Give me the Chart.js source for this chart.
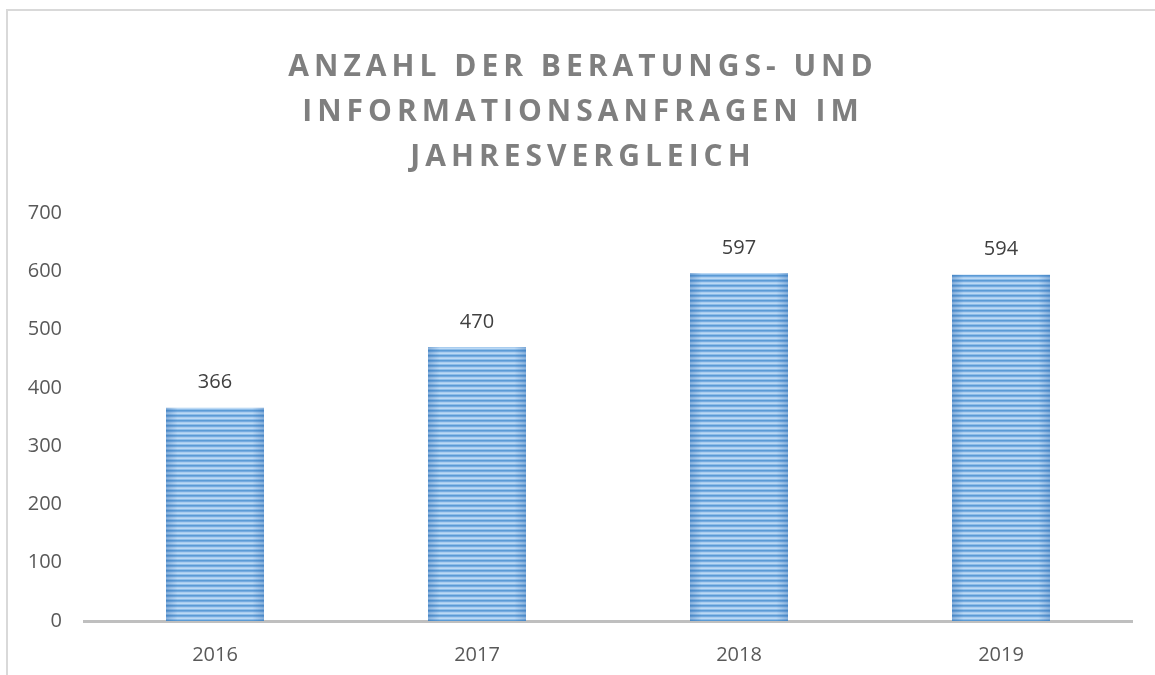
<!DOCTYPE html>
<html><head><meta charset="utf-8">
<script src="https://cdn.jsdelivr.net/npm/chart.js@4.4.1/dist/chart.umd.min.js"></script>
<style>
html,body{margin:0;padding:0;background:#fff;overflow:hidden;width:1155px;height:675px;}
#wrap{position:absolute;left:0;top:0;width:1155px;height:675px;}
#frame{position:absolute;left:6px;top:9px;width:1300px;height:800px;border:2px solid #d9d9d9;box-sizing:border-box;pointer-events:none;}
</style></head>
<body>
<div id="wrap"><canvas id="c" width="1155" height="675"></canvas></div>
<div id="frame"></div>
<script>
const categories = ['2016', '2017', '2018', '2019'];
const values = [366, 470, 597, 594];
const yTicks = [0, 100, 200, 300, 400, 500, 600, 700];
const titleLines = ['ANZAHL DER BERATUNGS- UND', 'INFORMATIONSANFRAGEN IM', 'JAHRESVERGLEICH'];

const stripeRows = ['#5b9bd5', '#76abe0', '#a9cdef', '#bcd9f4', '#8ebde9'];
const patCache = {};
function barFill(c) {
  const chart = c.chart;
  const xs = chart.scales && chart.scales.x;
  if (!xs || !chart.chartArea || c.dataIndex === undefined) return '#8fbbe6';
  const cat = (xs.right - xs.left) / categories.length;
  const w = Math.max(2, Math.round(cat * 0.374));
  const cx = xs.getPixelForValue(c.dataIndex);
  const left = cx - w / 2;
  let cv = patCache[w];
  if (!cv) {
    cv = document.createElement('canvas');
    cv.width = w; cv.height = stripeRows.length;
    const p = cv.getContext('2d');
    stripeRows.forEach((col, i) => { p.fillStyle = col; p.fillRect(0, i, w, 1); });
    const g = p.createLinearGradient(0, 0, w, 0);
    g.addColorStop(0, 'rgba(40,100,170,0.35)');
    g.addColorStop(0.12, 'rgba(40,100,170,0.0)');
    g.addColorStop(0.88, 'rgba(40,100,170,0.0)');
    g.addColorStop(1, 'rgba(40,100,170,0.35)');
    p.fillStyle = g; p.fillRect(0, 0, w, cv.height);
    patCache[w] = cv;
  }
  const pat = chart.ctx.createPattern(cv, 'repeat');
  pat.setTransform(new DOMMatrix().translate(left, 0));
  return pat;
}

const spacedTitle = {
  id: 'spacedTitle',
  beforeDraw(chart) {
    const tb = chart.titleBlock;
    if (tb && !tb._wrapped) {
      const orig = tb.draw;
      tb.draw = function () {
        const ctx = chart.ctx;
        ctx.save();
        ctx.letterSpacing = '5px';
        ctx.translate(17, 0);
        orig.apply(this, arguments);
        ctx.restore();
      };
      tb._wrapped = true;
    }
  }
};

const valueLabels = {
  id: 'valueLabels',
  afterDatasetsDraw(chart) {
    const ctx = chart.ctx;
    const meta = chart.getDatasetMeta(0);
    ctx.save();
    ctx.font = '20px "Open Sans"';
    ctx.fillStyle = '#404040';
    ctx.textAlign = 'center';
    ctx.textBaseline = 'middle';
    meta.data.forEach((el, i) => {
      ctx.fillText(String(values[i]), el.x, el.y - 25);
    });
    ctx.restore();
  }
};

new Chart(document.getElementById('c'), {
  type: 'bar',
  data: {
    labels: categories,
    datasets: [{
      data: values,
      backgroundColor: barFill,
      borderWidth: 0,
      categoryPercentage: 1,
      barPercentage: 0.374
    }]
  },
  options: {
    responsive: false,
    animation: false,
    devicePixelRatio: 1,
    layout: { padding: { left: 0, right: 23, top: 0, bottom: 10 } },
    plugins: {
      legend: { display: false },
      tooltip: { enabled: false },
      title: {
        display: true,
        text: titleLines,
        color: '#7f7f7f',
        font: { family: '"Open Sans"', size: 30, weight: 'bold', lineHeight: 1.5 },
        padding: { top: 45, bottom: 33 }
      }
    },
    scales: {
      x: {
        afterFit(s) { s.height = 44; },
        grid: { display: false, drawTicks: false },
        border: { display: true, color: '#bfbfbf', width: 3 },
        ticks: { color: '#595959', font: { family: '"Open Sans"', size: 20 }, padding: 22 }
      },
      y: {
        min: 0, max: 700,
        afterBuildTicks(s) { s.ticks = yTicks.map(v => ({ value: v })); },
        afterFit(s) { s.width = 84; },
        grid: { display: false, drawTicks: false },
        border: { display: false },
        ticks: { color: '#595959', font: { family: '"Open Sans"', size: 20 }, padding: 22 }
      }
    }
  },
  plugins: [spacedTitle, valueLabels]
});
</script>
</body></html>
